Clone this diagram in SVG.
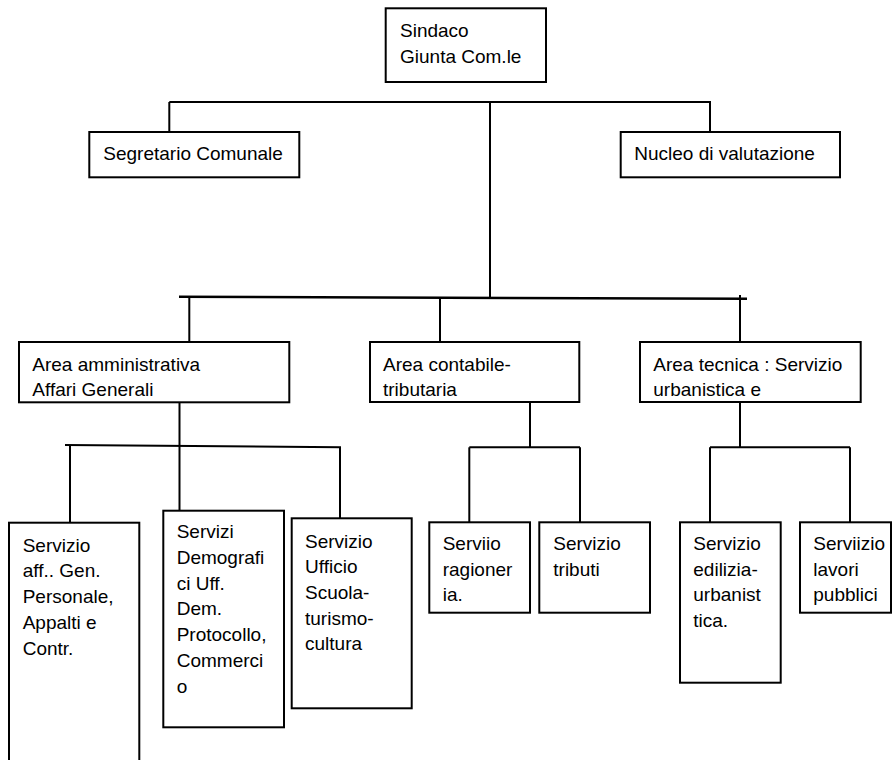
<svg xmlns="http://www.w3.org/2000/svg" width="893" height="760" viewBox="0 0 893 760">
<style>
.box{fill:#fff;stroke:#000;stroke-width:2}
.ln{stroke:#000;stroke-width:2;fill:none}
text{font-family:"Liberation Sans",Arial,sans-serif;font-size:19px;fill:#000}
</style>
<rect width="893" height="760" fill="#fff"/>
<g id="connectors">
<line class="ln" x1="169.3" y1="102" x2="711" y2="102"/>
<line class="ln" x1="169.3" y1="102" x2="169.3" y2="132"/>
<line class="ln" x1="710" y1="102" x2="710" y2="132"/>
<line class="ln" x1="490" y1="102" x2="490" y2="297.5"/>
<line class="ln" style="stroke-width:2.5" x1="179" y1="296.7" x2="747" y2="298.8"/>
<line class="ln" x1="189.3" y1="297" x2="189.3" y2="342"/>
<line class="ln" x1="440" y1="297.5" x2="440" y2="342"/>
<line class="ln" x1="740" y1="295" x2="740" y2="342"/>
<line class="ln" x1="179.5" y1="402" x2="179.5" y2="521"/>
<line class="ln" x1="65" y1="445" x2="341" y2="447.3"/>
<line class="ln" x1="70" y1="445" x2="70" y2="522.5"/>
<line class="ln" x1="340" y1="447" x2="340" y2="523"/>
<line class="ln" x1="530" y1="402" x2="530" y2="447.3"/>
<line class="ln" x1="469.3" y1="447.3" x2="580" y2="447.3"/>
<line class="ln" x1="469.3" y1="447.3" x2="469.3" y2="522.3"/>
<line class="ln" x1="580" y1="447.3" x2="580" y2="522.3"/>
<line class="ln" x1="740" y1="402" x2="740" y2="447.3"/>
<line class="ln" x1="710" y1="447.3" x2="850" y2="447.3"/>
<line class="ln" x1="710" y1="447.3" x2="710" y2="522.3"/>
<line class="ln" x1="850" y1="447.3" x2="850" y2="522.3"/>
</g>
<g id="sindaco">
<rect class="box" x="385.7" y="8.3" width="160.3" height="73.7"/>
<text x="400" y="37">Sindaco</text>
<text x="400" y="63">Giunta Com.le</text>
</g>
<g id="segretario">
<rect class="box" x="89.3" y="132" width="210" height="45.3"/>
<text x="103.3" y="160">Segretario Comunale</text>
</g>
<g id="nucleo">
<rect class="box" x="620.7" y="132" width="219.3" height="45.3"/>
<text x="634.3" y="160">Nucleo di valutazione</text>
</g>
<g id="area-amministrativa">
<rect class="box" x="19" y="342" width="270.3" height="60.3"/>
<text x="32.3" y="370.5">Area amministrativa</text>
<text x="32.3" y="396">Affari Generali</text>
</g>
<g id="area-contabile">
<rect class="box" x="370" y="342" width="209.3" height="60"/>
<text x="383" y="370.5">Area contabile-</text>
<text x="383" y="396">tributaria</text>
</g>
<g id="area-tecnica">
<rect class="box" x="640" y="342" width="220.7" height="60"/>
<text x="653.3" y="370.5">Area tecnica : Servizio</text>
<text x="653.3" y="396">urbanistica e</text>
</g>
<g id="servizio-aff-gen">
<rect class="box" x="9" y="522.7" width="130.3" height="250"/>
<text x="22.7" y="551.7">Servizio</text>
<text x="22.7" y="577.4">aff.. Gen.</text>
<text x="22.7" y="603.1">Personale,</text>
<text x="22.7" y="628.8">Appalti e</text>
<text x="22.7" y="654.5">Contr.</text>
</g>
<g id="servizi-demografici">
<rect class="box" x="163.3" y="510.7" width="120.7" height="216.6"/>
<text x="176.7" y="538.3">Servizi</text>
<text x="176.7" y="564">Demografi</text>
<text x="176.7" y="589.7">ci Uff.</text>
<text x="176.7" y="615.4">Dem.</text>
<text x="176.7" y="641.1">Protocollo,</text>
<text x="176.7" y="666.8">Commerci</text>
<text x="176.7" y="692.5">o</text>
</g>
<g id="servizio-scuola">
<rect class="box" x="291.7" y="518.3" width="120" height="190"/>
<text x="305" y="547.5">Servizio</text>
<text x="305" y="573.2">Ufficio</text>
<text x="305" y="598.9">Scuola-</text>
<text x="305" y="624.6">turismo-</text>
<text x="305" y="650.3">cultura</text>
</g>
<g id="servizio-ragioneria">
<rect class="box" x="429.3" y="522.3" width="100.7" height="90.4"/>
<text x="442.7" y="550">Serviio</text>
<text x="442.7" y="575.7">ragioner</text>
<text x="442.7" y="601.4">ia.</text>
</g>
<g id="servizio-tributi">
<rect class="box" x="539.3" y="522.3" width="110.7" height="90.4"/>
<text x="553.3" y="550">Servizio</text>
<text x="553.3" y="575.7">tributi</text>
</g>
<g id="servizio-edilizia">
<rect class="box" x="680" y="522.3" width="100.7" height="160.4"/>
<text x="693.3" y="550">Servizio</text>
<text x="693.3" y="575.7">edilizia-</text>
<text x="693.3" y="601.4">urbanist</text>
<text x="693.3" y="627.1">tica.</text>
</g>
<g id="servizio-lavori">
<rect class="box" x="800" y="522.3" width="91" height="90.4"/>
<text x="813.3" y="550">Serviizio</text>
<text x="813.3" y="575.7">lavori</text>
<text x="813.3" y="601.4">pubblici</text>
</g>
</svg>
